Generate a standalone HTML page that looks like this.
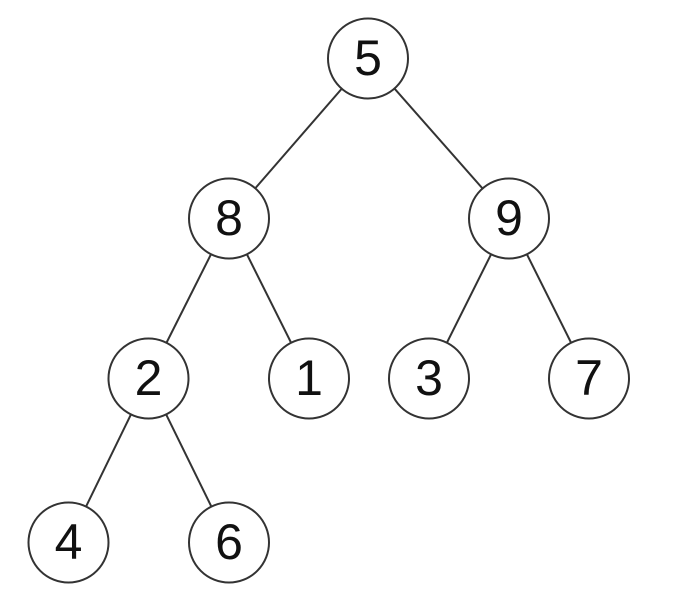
<!DOCTYPE html>
<html><head><style>html,body{margin:0;padding:0;background:#fff;}</style></head>
<body>
<svg width="679" height="599" viewBox="0 0 679 599" xmlns="http://www.w3.org/2000/svg">
<g stroke="#333" stroke-width="2">
<line x1="368" y1="58.5" x2="229" y2="218.5"/>
<line x1="368" y1="58.5" x2="509" y2="218.5"/>
<line x1="229" y1="218.5" x2="148.5" y2="378.5"/>
<line x1="229" y1="218.5" x2="309" y2="378.5"/>
<line x1="509" y1="218.5" x2="429" y2="378.5"/>
<line x1="509" y1="218.5" x2="589" y2="378.5"/>
<line x1="148.5" y1="378.5" x2="68.5" y2="542.5"/>
<line x1="148.5" y1="378.5" x2="229" y2="542.5"/>
</g>
<g fill="#fff" stroke="#333" stroke-width="2">
<circle cx="368" cy="58.5" r="40"/>
<circle cx="229" cy="218.5" r="40"/>
<circle cx="509" cy="218.5" r="40"/>
<circle cx="148.5" cy="378.5" r="40"/>
<circle cx="309" cy="378.5" r="40"/>
<circle cx="429" cy="378.5" r="40"/>
<circle cx="589" cy="378.5" r="40"/>
<circle cx="68.5" cy="542.5" r="40"/>
<circle cx="229" cy="542.5" r="40"/>
</g>
<g font-family="Liberation Sans, Arial, sans-serif" font-size="50" text-anchor="middle" fill="#111">
<text x="368" y="75">5</text>
<text x="229" y="235">8</text>
<text x="509" y="235">9</text>
<text x="148.5" y="395">2</text>
<text x="309" y="395">1</text>
<text x="429" y="395">3</text>
<text x="589" y="395">7</text>
<text x="68.5" y="559">4</text>
<text x="229" y="559">6</text>
</g>
</svg>
</body></html>
